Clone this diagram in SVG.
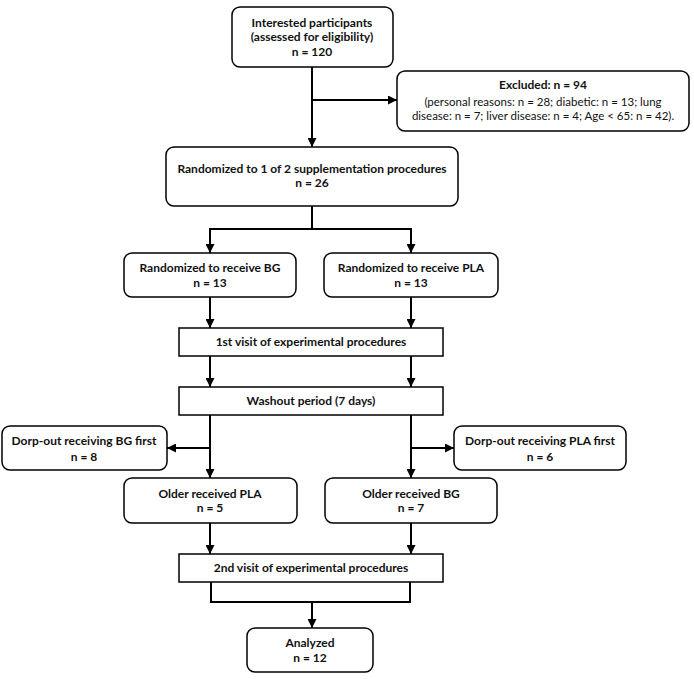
<svg xmlns="http://www.w3.org/2000/svg" width="694" height="679" viewBox="0 0 694 679">
<defs>
<marker id="ah" viewBox="0 0 10 10" refX="10" refY="5" markerWidth="4.5" markerHeight="4.5" orient="auto" markerUnits="strokeWidth">
<path d="M0,0 L10,5 L0,10 Z" fill="#000"/>
</marker>
<style>
.box{fill:#fff;stroke:#000;stroke-width:1.5}
.t{font-family:"Lato","Liberation Sans",sans-serif;font-size:12px;font-weight:bold;text-anchor:middle;fill:#111}
.n{font-family:"Lato","Liberation Sans",sans-serif;font-size:11.5px;font-weight:normal;text-anchor:middle;fill:#111}
.c{fill:none;stroke:#000;stroke-width:2}
.a{fill:none;stroke:#000;stroke-width:2;marker-end:url(#ah)}
</style>
</defs>
<rect width="694" height="679" fill="#fff"/>
<g id="connectors">
<path class="c" d="M312,67 V100"/>
<path class="a" d="M312,100 H397"/>
<path class="a" d="M312,100 V147"/>
<path class="c" d="M312,206 V229 M210,229 H411"/>
<path class="a" d="M210,228 V253"/>
<path class="a" d="M411,228 V253"/>
<path class="a" d="M210,297 V328"/>
<path class="a" d="M411,297 V328"/>
<path class="a" d="M210,356 V387"/>
<path class="a" d="M411,356 V387"/>
<path class="a" d="M210,415 V478"/>
<path class="a" d="M411,415 V478"/>
<path class="a" d="M210,448 H167"/>
<path class="a" d="M411,448 H454"/>
<path class="a" d="M210,523 V554"/>
<path class="a" d="M411,523 V554"/>
<path class="c" d="M211,582 V602 H410 V582"/>
<path class="a" d="M312,602 V628"/>
</g>
<g id="interested">
<rect class="box" x="232" y="7" width="161" height="60" rx="8"/>
<text class="t" x="312" y="27">Interested participants</text>
<text class="t" x="312" y="41">(assessed for eligibility)</text>
<text class="t" x="312" y="56">n = 120</text>
</g>
<g id="excluded">
<rect class="box" x="397" y="71" width="292" height="60" rx="8"/>
<text class="t" x="543" y="89">Excluded: n = 94</text>
<text class="n" x="543" y="106">(personal reasons: n = 28; diabetic: n = 13; lung</text>
<text class="n" x="543" y="120">disease: n = 7; liver disease: n = 4; Age &lt; 65: n = 42).</text>
</g>
<g id="randomized">
<rect class="box" x="166" y="147" width="292" height="59" rx="8"/>
<text class="t" x="312" y="173">Randomized to 1 of 2 supplementation procedures</text>
<text class="t" x="312" y="187">n = 26</text>
</g>
<g id="rand-bg">
<rect class="box" x="124" y="253" width="172" height="44" rx="8"/>
<text class="t" x="210" y="272">Randomized to receive BG</text>
<text class="t" x="210" y="287">n = 13</text>
</g>
<g id="rand-pla">
<rect class="box" x="324" y="253" width="174" height="44" rx="8"/>
<text class="t" x="411" y="272">Randomized to receive PLA</text>
<text class="t" x="411" y="287">n = 13</text>
</g>
<g id="visit1">
<rect class="box" x="179" y="328" width="264" height="28"/>
<text class="t" x="311" y="346">1st visit of experimental procedures</text>
</g>
<g id="washout">
<rect class="box" x="179" y="387" width="264" height="28"/>
<text class="t" x="311" y="405">Washout period (7 days)</text>
</g>
<g id="dropout-bg">
<rect class="box" x="2" y="426" width="165" height="44" rx="8"/>
<text class="t" x="84" y="445">Dorp-out receiving BG first</text>
<text class="t" x="84" y="461">n = 8</text>
</g>
<g id="dropout-pla">
<rect class="box" x="454" y="426" width="172" height="44" rx="8"/>
<text class="t" x="540" y="445">Dorp-out receiving PLA first</text>
<text class="t" x="540" y="461">n = 6</text>
</g>
<g id="older-pla">
<rect class="box" x="124" y="478" width="173" height="45" rx="8"/>
<text class="t" x="210" y="498">Older received PLA</text>
<text class="t" x="210" y="512">n = 5</text>
</g>
<g id="older-bg">
<rect class="box" x="325" y="478" width="172" height="45" rx="8"/>
<text class="t" x="411" y="498">Older received BG</text>
<text class="t" x="411" y="512">n = 7</text>
</g>
<g id="visit2">
<rect class="box" x="179" y="554" width="264" height="28"/>
<text class="t" x="311" y="572">2nd visit of experimental procedures</text>
</g>
<g id="analyzed">
<rect class="box" x="247" y="628" width="126" height="44" rx="8"/>
<text class="t" x="310" y="647">Analyzed</text>
<text class="t" x="310" y="662">n = 12</text>
</g>
</svg>
